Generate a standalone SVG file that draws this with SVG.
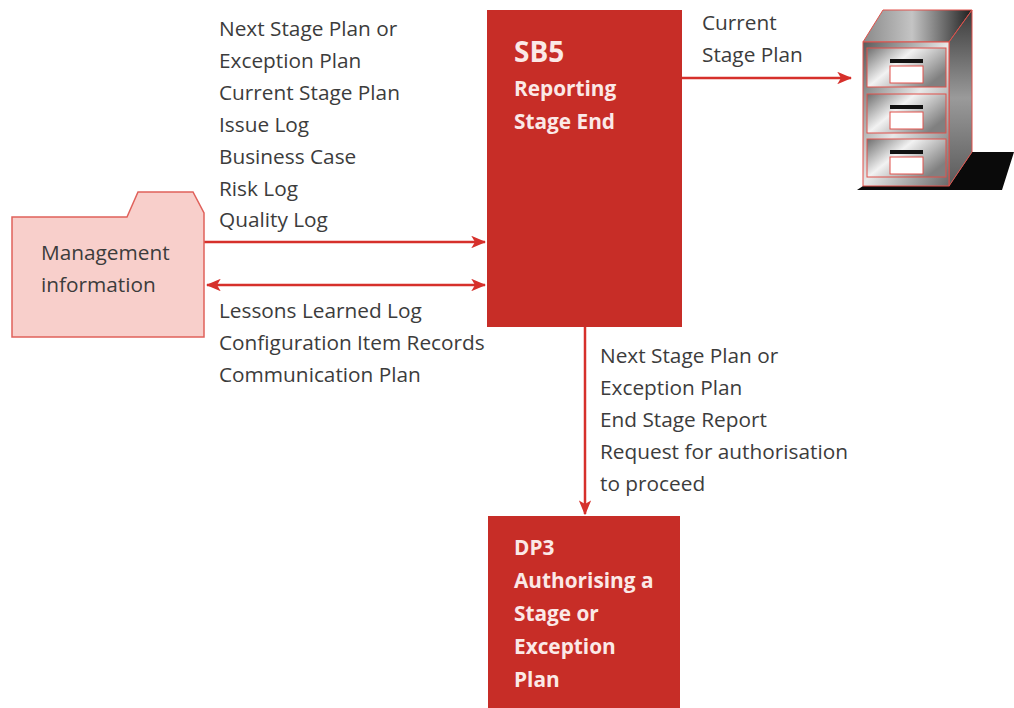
<svg xmlns="http://www.w3.org/2000/svg" width="1014" height="708" viewBox="0 0 1014 708">
  <style>
    .lbl { font-family: "Open Sans", "Liberation Sans", sans-serif; font-size: 20.8px; fill: #3c3c3c; }
    .proc { fill: #c72d27; }
    .ptxt { font-family: "Open Sans", "Liberation Sans", sans-serif; font-size: 20.8px; font-weight: bold; fill: #fbe9e7; }
    .big { font-size: 28px; }
    .flow { stroke: #d6302b; stroke-width: 2.5; fill: none; }
    .edge { stroke: #e0504a; stroke-width: 1; }
  </style>
  <defs>
    <marker id="arrowEnd" viewBox="0 0 12 10" refX="11" refY="5" markerWidth="6" markerHeight="5" orient="auto" markerUnits="strokeWidth">
      <path d="M0,0 L12,5 L0,10 L3,5 Z" fill="#d6302b"/>
    </marker>
    <marker id="arrowStart" viewBox="0 0 12 10" refX="1" refY="5" markerWidth="6" markerHeight="5" orient="auto" markerUnits="strokeWidth">
      <path d="M12,0 L0,5 L12,10 L9,5 Z" fill="#d6302b"/>
    </marker>
    <linearGradient id="frontGrad" x1="0" y1="0" x2="1" y2="1">
      <stop offset="0" stop-color="#5a5a5a"/>
      <stop offset="0.5" stop-color="#e8e8e8"/>
      <stop offset="1" stop-color="#6a6a6a"/>
    </linearGradient>
    <linearGradient id="drawerGrad" x1="0" y1="0" x2="1" y2="0.6">
      <stop offset="0" stop-color="#6e6e6e"/>
      <stop offset="0.45" stop-color="#f2f2f2"/>
      <stop offset="1" stop-color="#808080"/>
    </linearGradient>
    <linearGradient id="topGrad" x1="0" y1="0" x2="1" y2="0">
      <stop offset="0" stop-color="#8a8a8a"/>
      <stop offset="0.45" stop-color="#c4c4c4"/>
      <stop offset="1" stop-color="#1e1e1e"/>
    </linearGradient>
    <linearGradient id="sideGrad" x1="0" y1="0" x2="0" y2="1">
      <stop offset="0" stop-color="#3a3a3a"/>
      <stop offset="0.5" stop-color="#9a9a9a"/>
      <stop offset="1" stop-color="#5a5a5a"/>
    </linearGradient>
  </defs>

  <rect width="1014" height="708" fill="#ffffff"/>

  <!-- connectors -->
  <g id="connectors">
    <line class="flow" x1="204" y1="242" x2="485" y2="242" marker-end="url(#arrowEnd)"/>
    <line class="flow" x1="207" y1="285" x2="485" y2="285" marker-start="url(#arrowStart)" marker-end="url(#arrowEnd)"/>
    <line class="flow" x1="682" y1="78" x2="851" y2="78" marker-end="url(#arrowEnd)"/>
    <line class="flow" x1="585" y1="327" x2="585" y2="514" marker-end="url(#arrowEnd)"/>
  </g>

  <!-- management information folder -->
  <g id="management-information">
    <path d="M12,217 L127,217 L138,192 L193,192 L204,213 L204,337 L12,337 Z" fill="#f8cfcb" stroke="#e0615b" stroke-width="1.5"/>
    <text class="lbl" x="41" y="260">Management</text>
    <text class="lbl" x="41" y="292">information</text>
  </g>

  <!-- SB5 process -->
  <g id="sb5">
    <rect class="proc" x="487" y="10" width="195" height="317"/>
    <text class="ptxt big" x="514" y="62">SB5</text>
    <text class="ptxt" x="514" y="96">Reporting</text>
    <text class="ptxt" x="514" y="129">Stage End</text>
  </g>

  <!-- DP3 process -->
  <g id="dp3">
    <rect class="proc" x="488" y="516" width="192" height="200"/>
    <text class="ptxt" x="514" y="555">DP3</text>
    <text class="ptxt" x="514" y="588">Authorising a</text>
    <text class="ptxt" x="514" y="621">Stage or</text>
    <text class="ptxt" x="514" y="654">Exception</text>
    <text class="ptxt" x="514" y="687">Plan</text>
  </g>

  <!-- filing cabinet -->
  <g id="filing-cabinet">
    <polygon points="857,190 1002,190 1014,152 972,152 949,186 863,186" fill="#0a0a0a"/>
    <polygon points="863,42 883,10 972,10 949,42" fill="url(#topGrad)" class="edge"/>
    <polygon points="949,42 972,10 972,152 949,186" fill="url(#sideGrad)" class="edge"/>
    <rect x="863" y="42" width="86" height="144" fill="url(#frontGrad)" class="edge"/>
    <rect x="867" y="48" width="79" height="39" fill="url(#drawerGrad)" class="edge"/>
    <rect x="867" y="94" width="79" height="39" fill="url(#drawerGrad)" class="edge"/>
    <rect x="867" y="139" width="79" height="38" fill="url(#drawerGrad)" class="edge"/>
    <rect x="890" y="59" width="33" height="4" fill="#111"/>
    <rect x="890" y="105" width="33" height="4" fill="#111"/>
    <rect x="890" y="150" width="33" height="4" fill="#111"/>
    <rect x="890" y="66" width="33" height="17" fill="#ffffff" class="edge"/>
    <rect x="890" y="112" width="33" height="17" fill="#ffffff" class="edge"/>
    <rect x="890" y="157" width="33" height="17" fill="#ffffff" class="edge"/>
  </g>

  <!-- flow labels -->
  <g id="labels">
    <text class="lbl" x="219" y="36">Next Stage Plan or</text>
    <text class="lbl" x="219" y="68">Exception Plan</text>
    <text class="lbl" x="219" y="100">Current Stage Plan</text>
    <text class="lbl" x="219" y="132">Issue Log</text>
    <text class="lbl" x="219" y="164">Business Case</text>
    <text class="lbl" x="219" y="196">Risk Log</text>
    <text class="lbl" x="219" y="227">Quality Log</text>

    <text class="lbl" x="219" y="318">Lessons Learned Log</text>
    <text class="lbl" x="219" y="350">Configuration Item Records</text>
    <text class="lbl" x="219" y="382">Communication Plan</text>

    <text class="lbl" x="702" y="30">Current</text>
    <text class="lbl" x="702" y="62">Stage Plan</text>

    <text class="lbl" x="600" y="363">Next Stage Plan or</text>
    <text class="lbl" x="600" y="395">Exception Plan</text>
    <text class="lbl" x="600" y="427">End Stage Report</text>
    <text class="lbl" x="600" y="459">Request for authorisation</text>
    <text class="lbl" x="600" y="491">to proceed</text>
  </g>
</svg>
